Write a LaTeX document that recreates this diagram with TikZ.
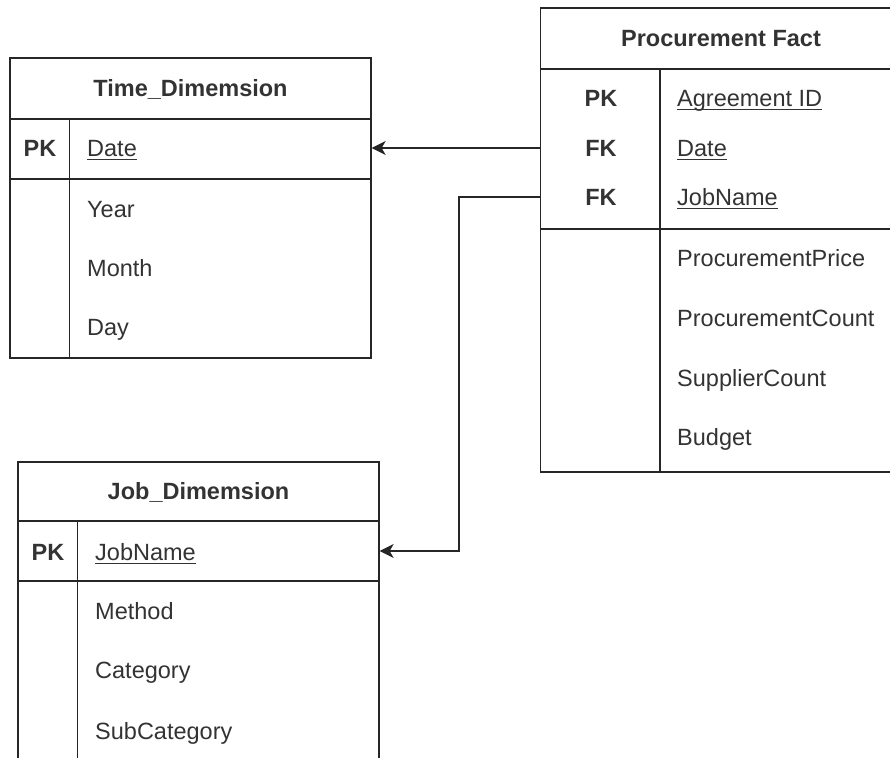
\documentclass[tikz,border=0pt]{standalone}
\usepackage{fontspec}
\setmainfont{Liberation Sans}
\usetikzlibrary{positioning, arrows.meta}

\newcommand{\fieldkey}[1]{\setbox0\hbox{#1}\rlap{\rule[-3.5pt]{\wd0}{1.4pt}}\box0}

\begin{document}
\begin{tikzpicture}[x=1pt, y=-1pt,
        every node/.style={inner sep=0pt, text=black!80, font=\fontsize{23.5}{26}\selectfont},
        cell/.style={draw=black!85, line width=1.3pt, minimum width=361pt},
        txt/.style={text height=16.8pt, text depth=0pt},
        title/.style={txt, font=\fontsize{23.5}{26}\selectfont\bfseries},
        keytag/.style={txt, font=\fontsize{23.5}{26}\selectfont\bfseries},
        field/.style={txt, anchor=west},
        fk/.style={draw=black!85, line width=1.3pt, -{Stealth[length=14pt, width=14pt, inset=4pt]}}]
        \useasboundingbox (0,0) rectangle (890,757);

        % Time dimension
        \node[cell, minimum height=61pt] (ttitle) at (190.5,88.5) {};
        \node[cell, minimum height=60pt] (tkey) at (190.5,149) {};
        \node[cell, minimum height=179pt] (tfields) at (190.5,268.5) {};
        \draw[line width=1.3pt, black!85] ([xshift=60pt]tkey.north west) -- ([xshift=60pt]tfields.south west);
        \node[title] (tname) at (ttitle) {Time\_Dimemsion};
        \node[keytag] (tpk) at (40,148) {PK};
        \node[field] (tdate) at (87,148) {\fieldkey{Date}};
        \node[field] (tyear) at (87,209) {Year};
        \node[field] (tmonth) at (87,268) {Month};
        \node[field] (tday) at (87,327) {Day};

        % Job dimension
        \node[cell, minimum height=59pt] (jtitle) at (198.5,491.5) {};
        \node[cell, minimum height=60pt] (jkey) at (198.5,551) {};
        \node[cell, minimum height=219pt] (jfields) at (198.5,690.5) {};
        \draw[line width=1.3pt, black!85] ([xshift=60pt]jkey.north west) -- ([xshift=60pt]jfields.south west);
        \node[title] (jname) at (jtitle) {Job\_Dimemsion};
        \node[keytag] (jpk) at (48,552) {PK};
        \node[field] (jjob) at (95,552) {\fieldkey{JobName}};
        \node[field] (jmethod) at (95,611) {Method};
        \node[field] (jcat) at (95,670) {Category};
        \node[field] (jsub) at (95,731) {SubCategory};

        % Procurement fact
        \node[cell, minimum height=61pt] (ptitle) at (721,38.5) {};
        \node[cell, minimum height=160pt] (pkeys) at (721,149) {};
        \node[cell, minimum height=243pt] (pfields) at (721,350.5) {};
        \draw[line width=1.3pt, black!85] ([xshift=120pt]pkeys.north west) -- ([xshift=120pt]pfields.south west);
        \node[title] (pname) at (ptitle) {Procurement Fact};
        \node[keytag] (ppk) at (601,98) {PK};
        \node[keytag] (pfkdate) at (601,148) {FK};
        \node[keytag] (pfkjob) at (601,197) {FK};
        \node[field] (pagree) at (677,98) {\fieldkey{Agreement ID}};
        \node[field] (pdate) at (677,148) {\fieldkey{Date}};
        \node[field] (pjob) at (677,197) {\fieldkey{JobName}};
        \node[field] (pprice) at (677,258) {ProcurementPrice};
        \node[field] (pcount) at (677,318) {ProcurementCount};
        \node[field] (psupp) at (677,378) {SupplierCount};
        \node[field] (pbudget) at (677,437) {Budget};

        % Links
        \draw[fk] (pfkdate -| pkeys.west) -- (pfkdate -| tkey.east);
        \draw[fk] (pfkjob -| pkeys.west) -- ++(-81,0) |- (jkey.east);
    \end{tikzpicture}
\end{document}
